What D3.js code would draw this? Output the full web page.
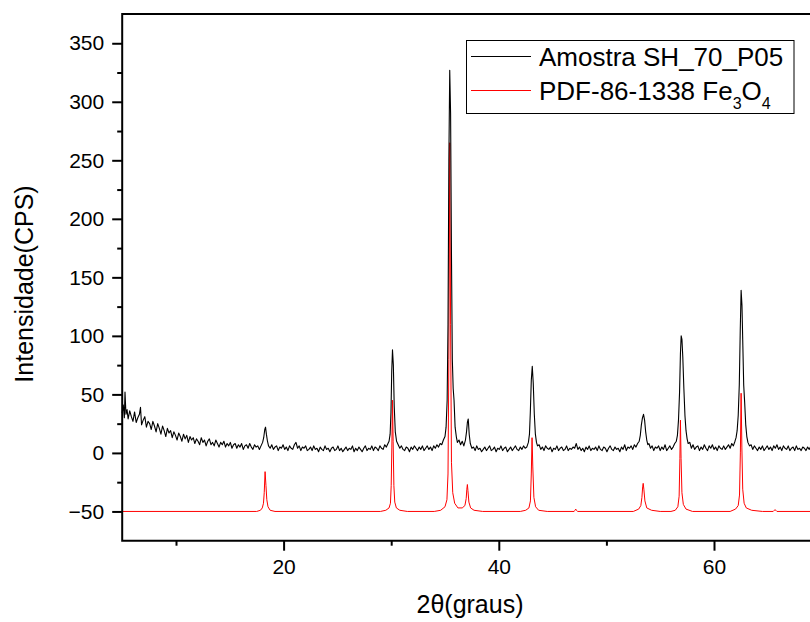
<!DOCTYPE html>
<html>
<head>
<meta charset="utf-8">
<script src="https://cdn.jsdelivr.net/npm/d3@7"></script>
<style>
  body { margin: 0; background: #fff; }
  svg { display: block; font-family: "Liberation Sans", Arial, sans-serif; }
</style>
</head>
<body>
<div id="wrapper"></div>
<script>
// DATA ([2theta, CPS])
const amostra = [
  [5.0, 34], [5.1, 41], [5.2, 30], [5.26, 52], [5.35, 33], [5.45, 37], [5.55, 29], [5.7, 36], [5.85, 31], [6.0, 27],
  [6.15, 35], [6.3, 26], [6.45, 30], [6.6, 33], [6.7, 39], [6.8, 24], [6.95, 28], [7.1, 31], [7.25, 22], [7.4, 27],
  [7.55, 25], [7.7, 20], [7.85, 27], [8.0, 23], [8.15, 18], [8.3, 25], [8.45, 21], [8.6, 16], [8.75, 23], [8.9, 19],
  [9.05, 14], [9.2, 21], [9.35, 17], [9.5, 19], [9.65, 13], [9.8, 18], [9.95, 15], [10.1, 11], [10.25, 17], [10.4, 14],
  [10.55, 10], [10.7, 16], [10.85, 12], [11.0, 15], [11.15, 9], [11.3, 14], [11.45, 11], [11.6, 13], [11.75, 8], [11.9, 12],
  [12.05, 10], [12.2, 7], [12.35, 13], [12.5, 9], [12.65, 11], [12.8, 6], [12.95, 10], [13.1, 12], [13.25, 7], [13.4, 9],
  [13.55, 6], [13.7, 11], [13.85, 8], [14.0, 5], [14.15, 9], [14.3, 7], [14.45, 10], [14.6, 5], [14.75, 8], [14.9, 6],
  [15.05, 9], [15.2, 4], [15.35, 7], [15.5, 8], [15.65, 4], [15.8, 7], [15.95, 5], [16.1, 8], [16.25, 3], [16.4, 6],
  [16.55, 7], [16.7, 4], [16.85, 8], [17.0, 5], [17.15, 3], [17.3, 7], [17.45, 5], [17.6, 6], [17.75, 3], [17.9, 6],
  [18.05, 9], [18.15, 13], [18.25, 20], [18.32, 22], [18.4, 16], [18.5, 10], [18.6, 6], [18.75, 4], [18.9, 7], [19.05, 3],
  [19.2, 5], [19.35, 6], [19.5, 2], [19.65, 5], [19.8, 4], [19.95, 7], [20.1, 3], [20.25, 5], [20.4, 2], [20.55, 6],
  [20.7, 4], [20.85, 3], [21.0, 7], [21.15, 9], [21.3, 4], [21.45, 6], [21.6, 2], [21.75, 5], [21.9, 4], [22.05, 6],
  [22.2, 2], [22.35, 3], [22.5, 5], [22.65, 2], [22.8, 6], [22.95, 3], [23.1, 4], [23.25, 1], [23.4, 5], [23.55, 3],
  [23.7, 2], [23.85, 6], [24.0, 3], [24.15, 4], [24.3, 1], [24.45, 4], [24.6, 5], [24.75, 2], [24.9, 3], [25.05, 6],
  [25.2, 2], [25.35, 4], [25.5, 1], [25.65, 3], [25.8, 5], [25.95, 2], [26.1, 4], [26.25, 3], [26.4, 6], [26.55, 1],
  [26.7, 4], [26.85, 2], [27.0, 5], [27.15, 3], [27.3, 1], [27.45, 4], [27.6, 6], [27.75, 2], [27.9, 4], [28.05, 3],
  [28.2, 6], [28.35, 2], [28.5, 5], [28.65, 4], [28.8, 2], [28.95, 6], [29.1, 4], [29.25, 3], [29.4, 7], [29.55, 5],
  [29.7, 8], [29.8, 10], [29.9, 16], [29.98, 35], [30.05, 70], [30.12, 88], [30.2, 75], [30.28, 40], [30.38, 18], [30.5, 10],
  [30.65, 7], [30.8, 4], [30.95, 6], [31.1, 3], [31.25, 2], [31.4, 5], [31.55, 4], [31.7, 1], [31.85, 5], [32.0, 3],
  [32.15, 6], [32.3, 4], [32.45, 2], [32.6, 5], [32.75, 3], [32.9, 6], [33.05, 2], [33.2, 4], [33.35, 6], [33.5, 3],
  [33.65, 5], [33.8, 2], [33.95, 6], [34.1, 4], [34.25, 7], [34.4, 5], [34.55, 8], [34.7, 7], [34.85, 11], [35.0, 14],
  [35.1, 22], [35.2, 45], [35.28, 110], [35.36, 250], [35.44, 327], [35.52, 290], [35.6, 170], [35.68, 80], [35.76, 55], [35.84, 45],
  [35.94, 22], [36.05, 14], [36.15, 9], [36.3, 11], [36.45, 7], [36.6, 10], [36.75, 6], [36.9, 11], [37.0, 18], [37.08, 26],
  [37.16, 29], [37.25, 16], [37.35, 8], [37.5, 4], [37.65, 5], [37.8, 2], [37.95, 6], [38.1, 3], [38.25, 4], [38.4, 1],
  [38.55, 3], [38.7, 5], [38.85, 2], [39.0, 4], [39.15, 6], [39.3, 2], [39.45, 3], [39.6, 5], [39.75, 1], [39.9, 4],
  [40.05, 3], [40.2, 6], [40.35, 2], [40.5, 4], [40.65, 5], [40.8, 1], [40.95, 3], [41.1, 5], [41.25, 2], [41.4, 4],
  [41.55, 6], [41.7, 3], [41.85, 2], [42.0, 5], [42.15, 3], [42.3, 6], [42.45, 4], [42.6, 5], [42.75, 9], [42.85, 16],
  [42.93, 35], [43.02, 62], [43.11, 74], [43.2, 60], [43.3, 33], [43.4, 16], [43.5, 9], [43.6, 6], [43.75, 7], [43.9, 3],
  [44.05, 5], [44.2, 2], [44.35, 6], [44.5, 4], [44.65, 3], [44.8, 5], [44.95, 1], [45.1, 4], [45.25, 3], [45.4, 6],
  [45.55, 2], [45.7, 4], [45.85, 5], [46.0, 2], [46.15, 3], [46.3, 6], [46.45, 2], [46.6, 4], [46.75, 3], [46.9, 5],
  [47.05, 4], [47.2, 8], [47.35, 3], [47.5, 5], [47.65, 2], [47.8, 4], [47.95, 1], [48.1, 5], [48.25, 3], [48.4, 6],
  [48.55, 2], [48.7, 4], [48.85, 3], [49.0, 5], [49.15, 2], [49.3, 6], [49.45, 3], [49.6, 2], [49.75, 5], [49.9, 4],
  [50.05, 1], [50.2, 4], [50.35, 6], [50.5, 3], [50.65, 2], [50.8, 5], [50.95, 3], [51.1, 4], [51.25, 1], [51.4, 5],
  [51.55, 3], [51.7, 7], [51.85, 2], [52.0, 5], [52.15, 4], [52.3, 6], [52.45, 3], [52.6, 7], [52.75, 5], [52.9, 8],
  [53.05, 10], [53.15, 15], [53.25, 24], [53.35, 30], [53.45, 33], [53.55, 28], [53.65, 18], [53.75, 11], [53.85, 7], [53.95, 8],
  [54.1, 4], [54.25, 6], [54.4, 2], [54.55, 5], [54.7, 4], [54.85, 6], [55.0, 2], [55.15, 5], [55.3, 3], [55.45, 7],
  [55.6, 2], [55.75, 4], [55.9, 6], [56.05, 3], [56.2, 5], [56.35, 8], [56.5, 10], [56.6, 15], [56.7, 28], [56.8, 52],
  [56.88, 85], [56.95, 100], [57.02, 97], [57.1, 82], [57.2, 55], [57.3, 32], [57.4, 19], [57.5, 12], [57.6, 8], [57.75, 9],
  [57.9, 4], [58.05, 7], [58.2, 3], [58.35, 5], [58.5, 6], [58.65, 2], [58.8, 5], [58.95, 3], [59.1, 7], [59.25, 4],
  [59.4, 2], [59.55, 6], [59.7, 4], [59.85, 7], [60.0, 3], [60.15, 5], [60.3, 2], [60.45, 6], [60.6, 4], [60.75, 3],
  [60.9, 6], [61.05, 3], [61.2, 5], [61.35, 7], [61.5, 4], [61.65, 8], [61.8, 6], [61.95, 10], [62.05, 13], [62.15, 19],
  [62.25, 32], [62.35, 58], [62.44, 105], [62.52, 139], [62.6, 126], [62.68, 92], [62.76, 58], [62.85, 43], [62.95, 24], [63.05, 14],
  [63.15, 9], [63.3, 6], [63.45, 7], [63.6, 3], [63.75, 6], [63.9, 4], [64.05, 2], [64.2, 5], [64.35, 3], [64.5, 6],
  [64.65, 2], [64.8, 4], [64.95, 6], [65.1, 3], [65.25, 5], [65.4, 2], [65.55, 6], [65.7, 4], [65.85, 7], [66.0, 3],
  [66.15, 5], [66.3, 2], [66.45, 6], [66.6, 4], [66.75, 3], [66.9, 6], [67.05, 2], [67.2, 4], [67.35, 5], [67.5, 2],
  [67.65, 6], [67.8, 3], [67.95, 4], [68.1, 2], [68.25, 5], [68.4, 4], [68.55, 2], [68.7, 5], [68.85, 3], [69.0, 6],
  [69.15, 2], [69.3, 4], [69.45, 5], [69.6, 2], [69.75, 4], [69.9, 3], [70.0, 4]
];

const padrao = [
  [5.0, -50], [17.5, -50], [17.85, -49], [18.02, -47], [18.13, -43], [18.2, -34], [18.28, -16], [18.36, -28], [18.44, -40], [18.55, -46],
  [18.75, -49], [19.2, -50], [29.0, -50], [29.5, -49], [29.8, -47], [29.93, -43], [30.0, -28], [30.06, 5], [30.12, 45], [30.18, 10],
  [30.25, -28], [30.33, -42], [30.48, -47], [30.8, -49], [31.5, -50], [34.0, -50], [34.6, -49], [35.0, -46], [35.18, -40], [35.28, -18],
  [35.36, 80], [35.44, 265], [35.52, 110], [35.6, -8], [35.72, -34], [35.9, -43], [36.2, -47], [36.6, -47], [36.85, -45], [36.97, -39],
  [37.03, -31], [37.08, -27], [37.13, -32], [37.22, -42], [37.38, -47], [37.7, -49], [38.5, -50], [42.0, -50], [42.5, -49], [42.8, -47],
  [42.94, -41], [43.02, -18], [43.09, 13], [43.16, -12], [43.26, -38], [43.42, -46], [43.7, -49], [44.5, -50], [47.0, -50], [47.08, -49],
  [47.15, -48], [47.22, -49], [47.32, -50], [52.5, -50], [53.0, -48], [53.2, -45], [53.3, -38], [53.37, -29], [53.42, -26], [53.48, -31],
  [53.58, -41], [53.75, -47], [54.2, -49], [55.0, -50], [56.0, -50], [56.4, -49], [56.64, -46], [56.76, -37], [56.83, -5], [56.88, 28],
  [56.94, -5], [57.02, -34], [57.15, -44], [57.4, -48], [58.0, -50], [61.5, -50], [62.0, -48], [62.25, -45], [62.37, -36], [62.45, 0],
  [62.52, 51], [62.59, 5], [62.67, -31], [62.8, -43], [63.0, -47], [63.5, -49], [64.5, -50], [65.5, -50], [65.6, -49], [65.67, -48.5],
  [65.75, -49], [65.85, -50], [70.0, -50]
];

const xDomain = [5, 70];
const yDomain = [-75, 375];
const xMajorTicks = [20, 40, 60];
const xMinorTicks = [10, 30, 50, 70];
const yMajorTicks = [-50, 0, 50, 100, 150, 200, 250, 300, 350];
const yMinorTicks = [-25, 25, 75, 125, 175, 225, 275, 325];

// GRAPH
const W = 810;
const H = 622;
const plot = { left: 122.2, right: 821.6, top: 14, bottom: 540.7 };

const svg = d3.select(`#wrapper`)
  .append(`svg`)
  .attr(`width`, W)
  .attr(`height`, H);

const xScale = d3.scaleLinear().domain(xDomain).range([plot.left, plot.right]);
const yScale = d3.scaleLinear().domain(yDomain).range([plot.bottom, plot.top]);

const line = d3.line()
  .x(d => xScale(d[0]))
  .y(d => yScale(d[1]));

svg.append(`path`)
  .datum(padrao)
  .attr(`fill`, `none`)
  .attr(`stroke`, `#ff0000`)
  .attr(`stroke-width`, 1)
  .attr(`d`, line);

svg.append(`path`)
  .datum(amostra)
  .attr(`fill`, `none`)
  .attr(`stroke`, `#000`)
  .attr(`stroke-width`, 1.1)
  .attr(`stroke-linejoin`, `round`)
  .attr(`d`, line);

// AXES
const styleAxis = g => {
  g.select(`.domain`).remove();
  g.selectAll(`.tick line`).attr(`stroke`, `#000`).attr(`stroke-width`, 2);
  g.selectAll(`.tick text`).attr(`fill`, `#000`).attr(`font-size`, 21)
    .attr(`font-family`, `"Liberation Sans", Arial, sans-serif`);
};

svg.append(`g`)
  .attr(`transform`, `translate(0, ${plot.bottom})`)
  .call(d3.axisBottom(xScale).tickValues(xMajorTicks).tickSize(10).tickPadding(8).tickFormat(d3.format(`d`)))
  .call(styleAxis);

svg.append(`g`)
  .attr(`transform`, `translate(0, ${plot.bottom})`)
  .call(d3.axisBottom(xScale).tickValues(xMinorTicks).tickSize(5).tickFormat(``))
  .call(styleAxis);

svg.append(`g`)
  .attr(`transform`, `translate(${plot.left}, 0)`)
  .call(d3.axisLeft(yScale).tickValues(yMajorTicks).tickSize(10).tickPadding(8).tickFormat(d3.format(`d`)))
  .call(styleAxis);

svg.append(`g`)
  .attr(`transform`, `translate(${plot.left}, 0)`)
  .call(d3.axisLeft(yScale).tickValues(yMinorTicks).tickSize(5).tickFormat(``))
  .call(styleAxis);

// frame
svg.append(`path`)
  .attr(`d`, `M${plot.right},${plot.top}H${plot.left}V${plot.bottom}H${plot.right}`)
  .attr(`fill`, `none`)
  .attr(`stroke`, `#000`)
  .attr(`stroke-width`, 2);

// TITLES
svg.append(`text`)
  .attr(`x`, 470)
  .attr(`y`, 613)
  .attr(`text-anchor`, `middle`)
  .attr(`font-size`, 25)
  .text(`2θ(graus)`);

svg.append(`text`)
  .attr(`transform`, `translate(33, 284) rotate(-90)`)
  .attr(`text-anchor`, `middle`)
  .attr(`font-size`, 25)
  .text(`Intensidade(CPS)`);

// LEGEND
const legend = svg.append(`g`);

legend.append(`rect`)
  .attr(`x`, 466.5)
  .attr(`y`, 40.5)
  .attr(`width`, 327.5)
  .attr(`height`, 73)
  .attr(`fill`, `#fff`)
  .attr(`stroke`, `#000`)
  .attr(`stroke-width`, 1);

const legendItems = [
  { color: `#000`, y: 56 },
  { color: `#ff0000`, y: 90 }
];

legend.selectAll(`.legend-line`)
  .data(legendItems)
  .enter()
  .append(`line`)
  .attr(`x1`, 471)
  .attr(`x2`, 531)
  .attr(`y1`, d => d.y + 0.5)
  .attr(`y2`, d => d.y + 0.5)
  .attr(`stroke`, d => d.color)
  .attr(`stroke-width`, 1);

legend.append(`text`)
  .attr(`x`, 539)
  .attr(`y`, 66)
  .attr(`font-size`, 26)
  .text(`Amostra SH_70_P05`);

const t2 = legend.append(`text`)
  .attr(`x`, 539)
  .attr(`y`, 100)
  .attr(`font-size`, 26);
t2.append(`tspan`).text(`PDF-86-1338 Fe`);
t2.append(`tspan`).attr(`font-size`, 16).attr(`dy`, 9).text(`3`);
t2.append(`tspan`).attr(`dy`, -9).text(`O`);
t2.append(`tspan`).attr(`font-size`, 16).attr(`dy`, 9).text(`4`);
</script>
</body>
</html>
